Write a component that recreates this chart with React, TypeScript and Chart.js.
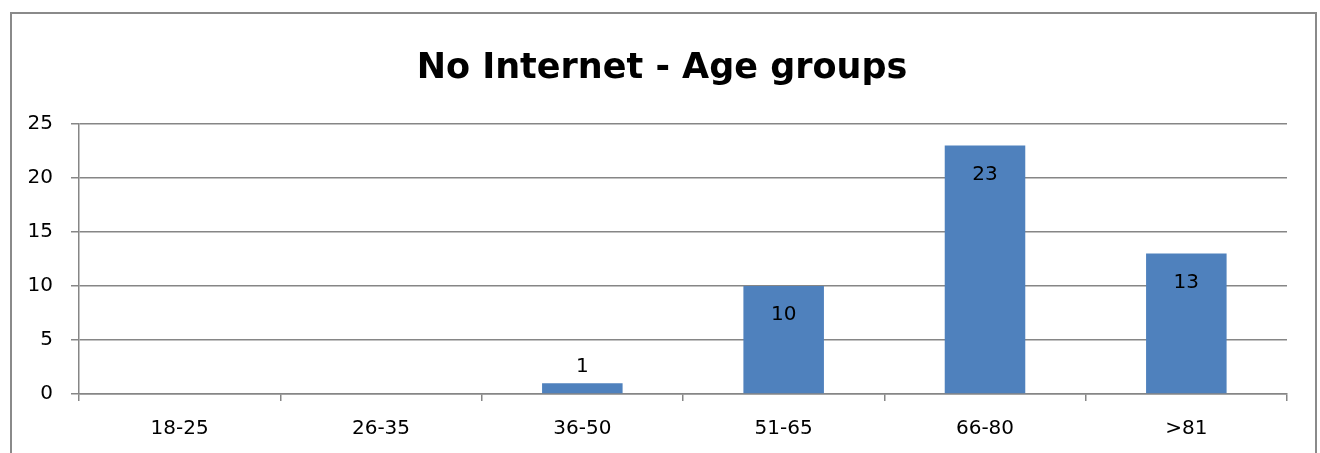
import { useEffect, useRef } from "react";
import { Chart, registerables } from "chart.js";

Chart.register(...registerables);

const categories = ["18-25", "26-35", "36-50", "51-65", "66-80", ">81"];
const counts = [0, 0, 1, 10, 23, 13];
const yMax = 25;
const yStep = 5;
const titleText = "No Internet - Age groups";

const FONT = "'DejaVu Sans', sans-serif";
const GRID = "#868686";
const BAR = "#4f81bd";

// Grey outer frame of the chart box
const framePlugin = {
  id: "frame",
  beforeDraw(chart: Chart) {
    const { ctx } = chart;
    ctx.save();
    ctx.fillStyle = "#ffffff";
    ctx.fillRect(0, 0, chart.width, chart.height);
    ctx.strokeStyle = "#8a8a8a";
    ctx.lineWidth = 2;
    ctx.strokeRect(11, 13, 1305, chart.height + 20);
    ctx.restore();
  },
};

// Bold centred heading above the plot
const headingPlugin = {
  id: "heading",
  afterDraw(chart: Chart) {
    const { ctx } = chart;
    ctx.save();
    ctx.fillStyle = "#000000";
    ctx.font = `bold 35px ${FONT}`;
    ctx.textAlign = "center";
    ctx.textBaseline = "alphabetic";
    ctx.fillText(titleText, 662, 78);
    ctx.restore();
  },
};

// Value labels: inside the top of tall bars, just above short ones
const valueLabelPlugin = {
  id: "valueLabels",
  afterDatasetsDraw(chart: Chart) {
    const { ctx } = chart;
    const meta = chart.getDatasetMeta(0);
    const values = chart.data.datasets[0].data as number[];
    ctx.save();
    ctx.fillStyle = "#000000";
    ctx.font = `20px ${FONT}`;
    ctx.textAlign = "center";
    ctx.textBaseline = "middle";
    meta.data.forEach((el: any, i: number) => {
      const v = values[i];
      if (!v) return;
      const h = el.base - el.y;
      const y = h > 40 ? el.y + 29 : el.y - 16;
      ctx.fillText(String(v), el.x, y);
    });
    ctx.restore();
  },
};

export default function App() {
  const canvasRef = useRef<HTMLCanvasElement | null>(null);

  useEffect(() => {
    document.body.style.margin = "0";
    const canvas = canvasRef.current;
    if (!canvas) return;
    const chart = new Chart(canvas, {
      type: "bar",
      data: {
        labels: categories,
        datasets: [
          {
            data: counts,
            backgroundColor: BAR,
            borderWidth: 0,
            barPercentage: 0.4,
            categoryPercentage: 1,
          },
        ],
      },
      options: {
        responsive: false,
        animation: false,
        devicePixelRatio: 1,
        layout: { padding: { top: 124, right: 33, left: 0, bottom: 0 } },
        plugins: {
          legend: { display: false },
          title: { display: false },
          tooltip: { enabled: false },
        },
        scales: {
          x: {
            afterFit(scale: any) {
              scale.height = 59;
            },
            grid: {
              offset: true,
              drawOnChartArea: false,
              drawTicks: true,
              tickLength: 7,
              color: GRID,
              lineWidth: 1.5,
            },
            border: { display: true, color: GRID, width: 1.5 },
            ticks: {
              color: "#000000",
              font: { family: FONT, size: 20 },
              padding: 16,
              maxRotation: 0,
            },
          },
          y: {
            min: 0,
            max: yMax,
            afterFit(scale: any) {
              scale.width = 79;
            },
            grid: {
              color: GRID,
              drawTicks: true,
              tickLength: 8,
              lineWidth: 1.5,
            },
            border: { display: true, color: GRID, width: 1.5 },
            ticks: {
              stepSize: yStep,
              color: "#000000",
              font: { family: FONT, size: 20 },
              padding: 18,
            },
          },
        },
      },
      plugins: [framePlugin, headingPlugin, valueLabelPlugin],
    });
    return () => chart.destroy();
  }, []);

  return (
    <canvas
      ref={canvasRef}
      width={1320}
      height={453}
      style={{ display: "block", width: 1320, height: 453 }}
    />
  );
}
